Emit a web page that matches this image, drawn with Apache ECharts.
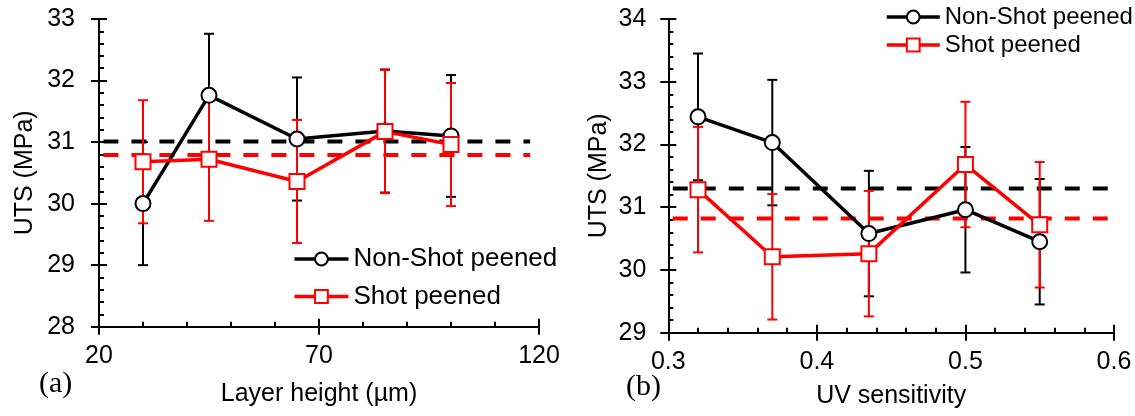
<!DOCTYPE html>
<html>
<head>
<meta charset="utf-8">
<script src="https://cdn.jsdelivr.net/npm/echarts@6/dist/echarts.min.js"></script>
<style>
html,body{margin:0;padding:0;background:#fff;}
#chart{width:1135px;height:416px;}
</style>
</head>
<body>
<div id="chart"></div>
<script>
// ---- Panel (a): layer height ----
const layerHeight = [30, 45, 65, 85, 100];
const layerNonShot = [30.00, 31.76, 31.05, 31.18, 31.10];
const layerNonShotErr = [1.00, 1.00, 1.00, 1.00, 0.99];
const layerShot = [30.68, 30.72, 30.36, 31.17, 30.96];
const layerShotErr = [1.00, 1.00, 1.00, 1.00, 1.00];
const layerMeanRange = [21, 118];
const layerMeanNonShot = 31.01;
const layerMeanShot = 30.79;
const layerXTicks = [20, 70, 120];
const layerYTicks = [28, 29, 30, 31, 32, 33];

// ---- Panel (b): UV sensitivity ----
const uvSens = [0.32, 0.37, 0.435, 0.5, 0.55];
const uvNonShot = [32.44, 32.03, 30.58, 30.96, 30.45];
const uvNonShotErr = [1.01, 1.00, 1.00, 1.00, 1.00];
const uvShot = [31.28, 30.21, 30.26, 31.68, 30.72];
const uvShotErr = [1.00, 1.00, 1.00, 1.00, 1.00];
const uvMeanRange = [0.303, 0.598];
const uvMeanNonShot = 31.30;
const uvMeanShot = 30.82;
const uvXTicks = [0.3, 0.4, 0.5, 0.6];
const uvYTicks = [29, 30, 31, 32, 33, 34];

const names = ['Non-Shot peened', 'Shot peened'];
const BLACK = '#000000';
const RED = '#ff0000';
const FONT = 'Liberation Sans, Arial, sans-serif';
const SERIF = 'Liberation Serif, Times New Roman, serif';

const chart = echarts.init(document.getElementById('chart'), null, {renderer: 'canvas'});

function mainAxis(grid, ticks, opts) {
  return Object.assign({
    type: 'value', gridIndex: grid,
    min: ticks[0], max: ticks[ticks.length - 1], interval: ticks[1] - ticks[0],
    axisLine: {show: true, onZero: false, lineStyle: {color: BLACK, width: 2}},
    axisTick: {show: true, inside: false, length: 8, lineStyle: {color: BLACK, width: 2}},
    minorTick: {show: false},
    splitLine: {show: false},
    axisLabel: {color: BLACK, fontSize: 25, fontFamily: FONT},
    nameLocation: 'middle',
    nameTextStyle: {color: BLACK, fontSize: 25, fontFamily: FONT}
  }, opts);
}
function overlayAxis(grid, ticks, position) {
  return {
    type: 'value', gridIndex: grid, position: position,
    min: ticks[0], max: ticks[ticks.length - 1], interval: ticks[1] - ticks[0],
    axisLine: {show: false, onZero: false},
    axisTick: {show: true, inside: true, length: 8, lineStyle: {color: BLACK, width: 2}},
    minorTick: {show: true, splitNumber: 5, length: 5, lineStyle: {color: BLACK, width: 2}},
    splitLine: {show: false},
    axisLabel: {show: false}
  };
}

function errorBars(name, xs, ys, errs, color, xi, yi) {
  return {
    type: 'custom', name: name, xAxisIndex: xi, yAxisIndex: yi, silent: true, clip: false, z: 2,
    data: xs.map((x, i) => [x, ys[i] - errs[i], ys[i] + errs[i]]),
    encode: {x: 0, y: [1, 2]},
    renderItem: function (params, api) {
      const x = api.value(0);
      const lo = api.coord([x, api.value(1)]);
      const hi = api.coord([x, api.value(2)]);
      const w = 5;
      const style = {stroke: color, lineWidth: 2};
      return {
        type: 'group',
        children: [
          {type: 'line', shape: {x1: lo[0], y1: lo[1], x2: hi[0], y2: hi[1]}, style: style},
          {type: 'line', shape: {x1: lo[0] - w, y1: lo[1], x2: lo[0] + w, y2: lo[1]}, style: style},
          {type: 'line', shape: {x1: hi[0] - w, y1: hi[1], x2: hi[0] + w, y2: hi[1]}, style: style}
        ]
      };
    }
  };
}
function meanLine(name, range, value, color, xi, yi) {
  return {
    type: 'line', name: name, xAxisIndex: xi, yAxisIndex: yi, silent: true, z: 1,
    symbol: 'none',
    data: range.map(x => [x, value]),
    lineStyle: {color: color, width: 4, type: [15, 13]}
  };
}
function dataLine(name, xs, ys, color, symbol, xi, yi) {
  return {
    type: 'line', name: name, xAxisIndex: xi, yAxisIndex: yi, z: 3,
    data: xs.map((x, i) => [x, ys[i]]),
    symbol: symbol, symbolSize: 15, showAllSymbol: true,
    lineStyle: {color: color, width: 3.5},
    itemStyle: {color: '#ffffff', borderColor: color, borderWidth: 2}
  };
}

const option = {
  animation: false,
  backgroundColor: '#ffffff',
  textStyle: {fontFamily: FONT, color: BLACK},
  grid: [
    {left: 99, top: 19, width: 440, height: 307.7, containLabel: false},
    {left: 668.3, top: 19, width: 445.7, height: 313.7, containLabel: false}
  ],
  xAxis: [
    mainAxis(0, layerXTicks, {position: 'bottom', name: 'Layer height (µm)', nameGap: 55, axisLabel: {color: BLACK, fontSize: 25, fontFamily: FONT, margin: 17}}),
    overlayAxis(0, layerXTicks, 'bottom'),
    mainAxis(1, uvXTicks, {position: 'bottom', name: 'UV sensitivity', nameGap: 51, axisLabel: {color: BLACK, fontSize: 25, fontFamily: FONT, margin: 17}}),
    overlayAxis(1, uvXTicks, 'bottom')
  ],
  yAxis: [
    mainAxis(0, layerYTicks, {position: 'left', name: 'UTS (MPa)', nameGap: 61, axisLabel: {color: BLACK, fontSize: 25, fontFamily: FONT, margin: 24}}),
    overlayAxis(0, layerYTicks, 'left'),
    mainAxis(1, uvYTicks, {position: 'left', name: 'UTS (MPa)', nameGap: 57, axisLabel: {color: BLACK, fontSize: 25, fontFamily: FONT, margin: 22}}),
    overlayAxis(1, uvYTicks, 'left')
  ],
  legend: [
    {
      data: names, orient: 'vertical', left: 292.7, top: 246, padding: 0, itemWidth: 54, itemHeight: 16, itemGap: 11.5,
      lineStyle: {width: 3.5},
      textStyle: {color: BLACK, fontSize: 26, fontFamily: FONT}, selectedMode: false
    },
    {
      data: names, orient: 'vertical', left: 885, top: 5, padding: 0, itemWidth: 53, itemHeight: 16, itemGap: 4,
      lineStyle: {width: 3.5},
      textStyle: {color: BLACK, fontSize: 24, fontFamily: FONT}, selectedMode: false
    }
  ],
  graphic: [
    {type: 'text', left: 39, top: 369, style: {text: '(a)', fontSize: 30, fontFamily: SERIF, fill: BLACK}},
    {type: 'text', left: 626, top: 372, style: {text: '(b)', fontSize: 30, fontFamily: SERIF, fill: BLACK}}
  ],
  series: [
    meanLine('meanA-non', layerMeanRange, layerMeanNonShot, BLACK, 0, 0),
    meanLine('meanA-shot', layerMeanRange, layerMeanShot, RED, 0, 0),
    errorBars('errA-non', layerHeight, layerNonShot, layerNonShotErr, BLACK, 0, 0),
    errorBars('errA-shot', layerHeight, layerShot, layerShotErr, RED, 0, 0),
    dataLine(names[0], layerHeight, layerNonShot, BLACK, 'circle', 0, 0),
    dataLine(names[1], layerHeight, layerShot, RED, 'rect', 0, 0),

    meanLine('meanB-non', uvMeanRange, uvMeanNonShot, BLACK, 2, 2),
    meanLine('meanB-shot', uvMeanRange, uvMeanShot, RED, 2, 2),
    errorBars('errB-non', uvSens, uvNonShot, uvNonShotErr, BLACK, 2, 2),
    errorBars('errB-shot', uvSens, uvShot, uvShotErr, RED, 2, 2),
    dataLine(names[0], uvSens, uvNonShot, BLACK, 'circle', 2, 2),
    dataLine(names[1], uvSens, uvShot, RED, 'rect', 2, 2)
  ]
};
chart.setOption(option);
</script>
</body>
</html>
